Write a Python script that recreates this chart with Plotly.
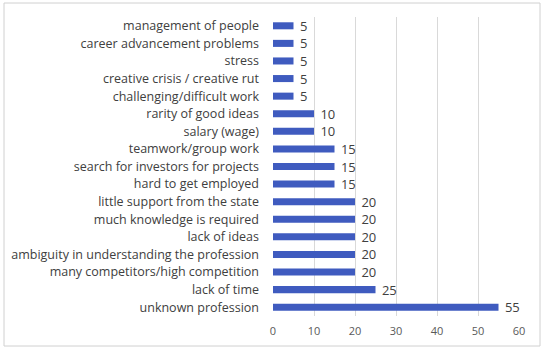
import plotly.graph_objects as go

categories = [
    "management of people",
    "career advancement problems",
    "stress",
    "creative crisis / creative rut",
    "challenging/difficult work",
    "rarity of good ideas",
    "salary (wage)",
    "teamwork/group work",
    "search for investors for projects",
    "hard to get employed",
    "little support from the state",
    "much knowledge is required",
    "lack of ideas",
    "ambiguity in understanding the profession",
    "many competitors/high competition",
    "lack of time",
    "unknown profession",
]
values = [5, 5, 5, 5, 5, 10, 10, 15, 15, 15, 20, 20, 20, 20, 20, 25, 55]
x_ticks = [0, 10, 20, 30, 40, 50, 60]

cats_r = categories[::-1]
vals_r = values[::-1]

W, H = 548, 352
L, R, T, B = 273, 29, 17, 36
pw, ph = W - L - R, H - T - B

fig = go.Figure(go.Bar(
    x=vals_r, y=cats_r, orientation="h",
    marker=dict(color="#3F5BBF", line=dict(width=0)),
    texttemplate="\u00a0%{x}", textposition="outside",
    constraintext="none",
    textfont=dict(size=13, color="#404040"),
    cliponaxis=False,
))

fig.update_layout(
    width=W, height=H,
    margin=dict(l=L, r=R, t=T, b=B),
    paper_bgcolor="white", plot_bgcolor="white",
    font=dict(family="Open Sans", size=12.5, color="#404040"),
    bargap=0.6,
    showlegend=False,
    xaxis=dict(range=[0, 60], tickvals=x_ticks, showgrid=True, gridcolor="#D9D9D9",
               gridwidth=1, zeroline=False, showline=False, ticks="",
               ticklabelstandoff=7,
               tickfont=dict(size=11, color="#595959"), fixedrange=True),
    yaxis=dict(showgrid=False, showline=False, ticks="", ticklabelstandoff=13,
               tickfont=dict(size=12.5, color="#404040"), fixedrange=True),
    shapes=[dict(type="rect", xref="paper", yref="paper",
                 x0=(4 - L) / pw, x1=(540 - L) / pw,
                 y0=((H - B) - 346) / ph, y1=((H - B) - 3) / ph,
                 line=dict(color="#D0D0D0", width=1), fillcolor="rgba(0,0,0,0)",
                 layer="above")],
)

fig.write_html("out.html")
